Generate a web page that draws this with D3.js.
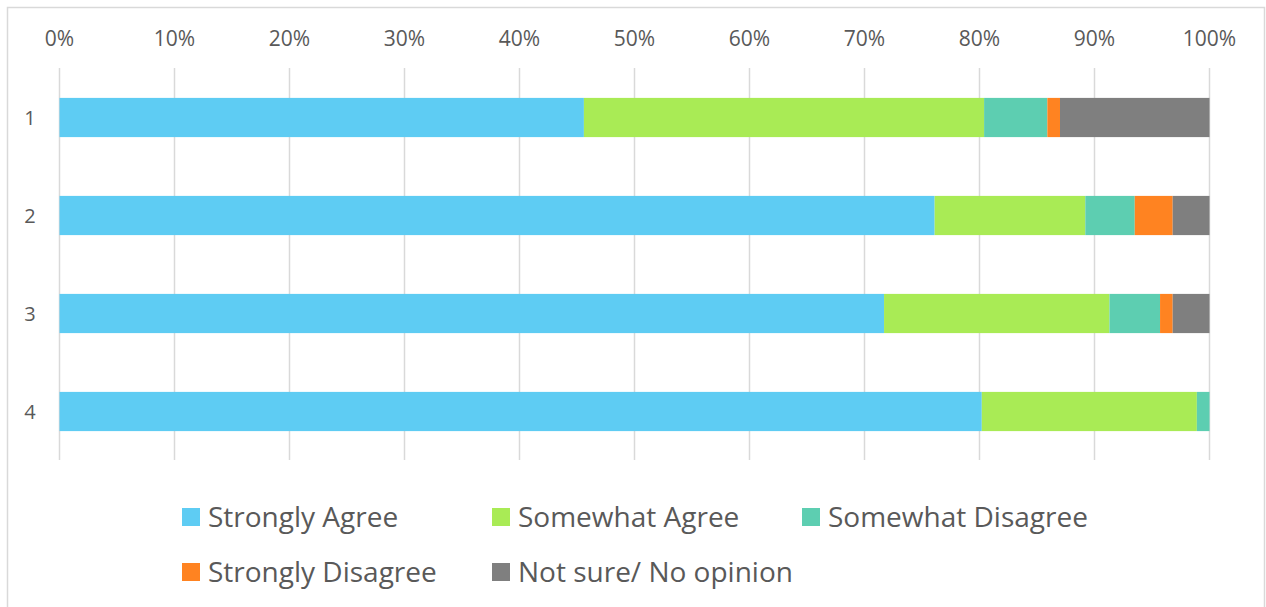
<!DOCTYPE html>
<html>
<head>
<meta charset="utf-8">
<script src="https://d3js.org/d3.v7.min.js"></script>
<style>
  body { margin: 0; background: #fff; }
  text { font-family: "Open Sans", "Liberation Sans", sans-serif; fill: #595959; }
</style>
</head>
<body>
<div id="chart"></div>
<script>
// rows as listed top to bottom
var categories = ["1", "2", "3", "4"];
var seriesNames = ["Strongly Agree", "Somewhat Agree", "Somewhat Disagree", "Strongly Disagree", "Not sure/ No opinion"];
var stronglyAgree    = [45.6, 76.1, 71.7, 80.2];
var somewhatAgree    = [34.8, 13.1, 19.6, 18.7];
var somewhatDisagree = [5.5, 4.3, 4.4, 1.1];
var stronglyDisagree = [1.1, 3.3, 1.1, 0];
var notSure          = [13.0, 3.2, 3.2, 0];
var tickValues = [0, 10, 20, 30, 40, 50, 60, 70, 80, 90, 100];
var colors = ["#5ECCF3", "#A9EB55", "#5DCEB1", "#FF8321", "#7F7F7F"];

var width = 1266, height = 607;

var svg = d3.select("#chart").append("svg")
    .attr("width", width)
    .attr("height", height);

// outer frame
svg.append("rect")
    .attr("x", 7.5).attr("y", 7.5)
    .attr("width", 1257).attr("height", 610)
    .style("fill", "none")
    .style("stroke", "#d9d9d9")
    .style("stroke-width", 1.5);

var x = d3.scaleLinear().domain([0, 100]).range([59.5, 1209.5]);
var y = d3.scaleBand().domain(categories).range([68.5, 460.5]).paddingInner(0.6).paddingOuter(0.3);

// gridlines
svg.append("g").selectAll("line").data(tickValues).enter().append("line")
    .attr("x1", function(d) { return x(d); })
    .attr("x2", function(d) { return x(d); })
    .attr("y1", 68).attr("y2", 460)
    .style("stroke", "#d9d9d9")
    .style("stroke-width", 1.5);

// top tick labels
svg.append("g").selectAll("text").data(tickValues).enter().append("text")
    .attr("x", function(d) { return x(d); })
    .attr("y", 46)
    .attr("text-anchor", "middle")
    .style("font-size", "21px")
    .text(function(d) { return d + "%"; });

// category labels
svg.append("g").selectAll("text").data(categories).enter().append("text")
    .attr("x", 30)
    .attr("y", function(d) { return y(d) + y.bandwidth() / 2 + 7; })
    .attr("text-anchor", "middle")
    .style("font-size", "20px")
    .text(function(d) { return d; });

var rows = categories.map(function(c, i) {
  return { cat: c, vals: [stronglyAgree[i], somewhatAgree[i], somewhatDisagree[i], stronglyDisagree[i], notSure[i]] };
});
var stack = d3.stack().keys(d3.range(seriesNames.length)).value(function(d, k) { return d.vals[k]; });
var layers = stack(rows);

svg.append("g").selectAll("g").data(layers).enter().append("g")
    .style("fill", function(d, i) { return colors[i]; })
  .selectAll("rect").data(function(d) { return d; }).enter().append("rect")
    .attr("x", function(d) { return x(d[0]); })
    .attr("y", function(d) { return y(d.data.cat); })
    .attr("width", function(d) { return x(d[1]) - x(d[0]); })
    .attr("height", y.bandwidth());

// legend
var legendPos = [[182, 508], [492, 508], [802, 508], [182, 563], [492, 563]];
var legend = svg.append("g").selectAll("g").data(seriesNames).enter().append("g")
    .attr("transform", function(d, i) { return "translate(" + legendPos[i][0] + "," + legendPos[i][1] + ")"; });
legend.append("rect")
    .attr("width", 18).attr("height", 18)
    .style("fill", function(d, i) { return colors[i]; });
legend.append("text")
    .attr("x", 26).attr("y", 19)
    .style("font-size", "28px")
    .text(function(d) { return d; });
</script>
</body>
</html>
